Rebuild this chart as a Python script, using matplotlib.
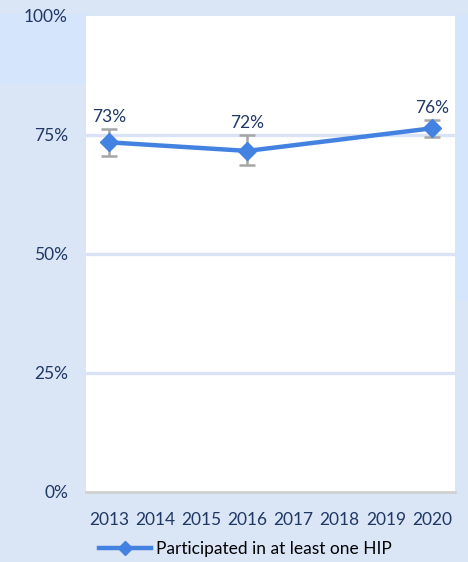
import matplotlib.pyplot as plt
from matplotlib.patches import Rectangle

# donnees
annees = [2013, 2016, 2020]
valeurs = [73.4, 71.6, 76.35]
err_haut = [76.2, 75.0, 78.1]
err_bas = [70.5, 68.6, 74.6]
etiquettes = ['73%', '72%', '76%']
ticks_x = list(range(2013, 2021))
ticks_y = [0, 25, 50, 75, 100]
nom_serie = 'Participated in at least one HIP'

fond = '#dae5f6'
texte = '#1f3864'
bleu = '#4382e0'
plt.rcParams['font.family'] = ['Lato', 'DejaVu Sans']

fig = plt.figure(figsize=(4.68, 5.62), dpi=100, facecolor=fond)
# zones un peu plus claires de la capture
fig.patches.append(Rectangle((0, 1 - 83 / 562), 86 / 468, 69 / 562,
                             transform=fig.transFigure, color='#d5e5fc', zorder=-5))
fig.patches.append(Rectangle((455 / 468, 1 - 300 / 562), 13 / 468, 285 / 562,
                             transform=fig.transFigure, color='#d5e5fc', zorder=-5))

ax = fig.add_axes([86 / 468, 1 - 491.5 / 562, 369 / 468, 475.7 / 562])
ax.set_facecolor('white')

yerr = [[v - b for v, b in zip(valeurs, err_bas)],
        [h - v for v, h in zip(valeurs, err_haut)]]
ax.errorbar(annees, valeurs, yerr=yerr, fmt='none', ecolor='#a6a6a6',
            elinewidth=1.8, capsize=6, capthick=1.8, zorder=3)
ax.plot(annees, valeurs, color=bleu, lw=3.2, marker='D', markersize=9,
        label=nom_serie, zorder=4)

for x, h, t in zip(annees, err_haut, etiquettes):
    ax.annotate(t, (x, h), xytext=(0, 3), textcoords='offset points',
                ha='center', va='bottom', color=texte, fontsize=12.5)

ax.set_xlim(2012.5, 2020.5)
ax.set_ylim(0, 100)
ax.set_xticks(ticks_x)
ax.set_xticklabels([str(a) for a in ticks_x])
ax.set_yticks(ticks_y)
ax.set_yticklabels([f'{t}%' for t in ticks_y])
for t in ticks_y[1:-1]:
    ax.axhline(t, color='#d9e3f5', lw=2.4, zorder=1)

for s in ['top', 'left', 'right']:
    ax.spines[s].set_visible(False)
ax.spines['bottom'].set_color('#d0d0d0')
ax.spines['bottom'].set_linewidth(2)
ax.tick_params(axis='both', length=0, colors=texte, labelsize=12.5)
ax.tick_params(axis='x', pad=15)
ax.tick_params(axis='y', pad=13)

fig.legend(loc='center', bbox_to_anchor=(0.524, 1 - 549 / 562), frameon=False,
           fontsize=12.5, labelcolor='black', handlelength=3.0, handletextpad=0.3,
           markerscale=0.75)

fig.savefig('out.png', dpi=100, facecolor=fond)
